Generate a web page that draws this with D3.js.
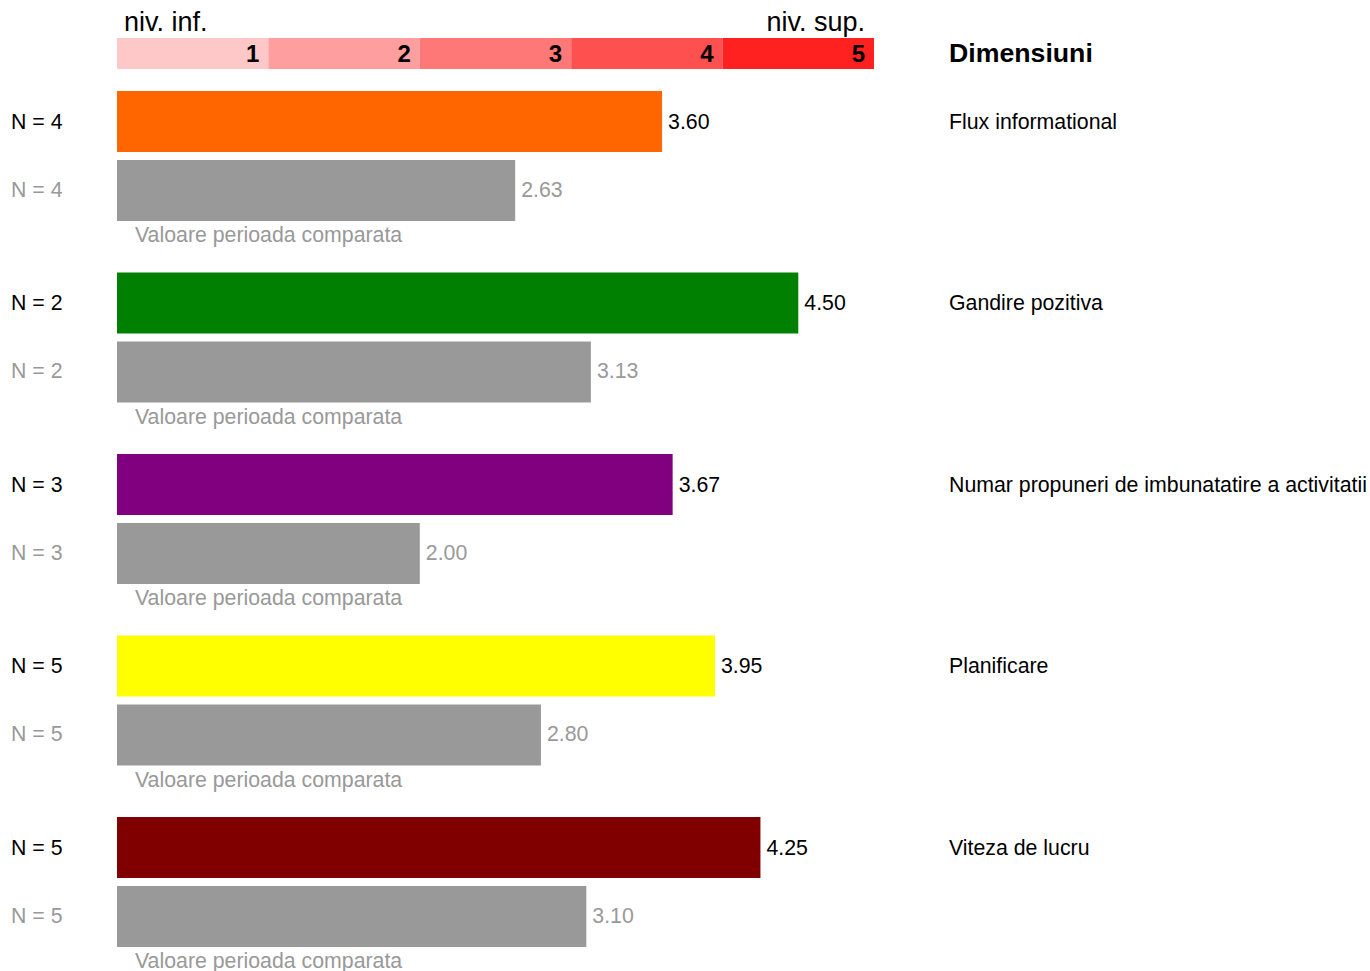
<!DOCTYPE html>
<html>
<head>
<meta charset="utf-8">
<script src="https://cdn.jsdelivr.net/npm/d3@7"></script>
<style>
  body { margin: 0; background: #fff; }
  svg { font-family: "Liberation Sans", Arial, sans-serif; }
</style>
</head>
<body>
<svg width="1370" height="971"></svg>
<script>
// data
var dimensions = ["Flux informational", "Gandire pozitiva", "Numar propuneri de imbunatatire a activitatii", "Planificare", "Viteza de lucru"];
var currentValues = [3.60, 4.50, 3.67, 3.95, 4.25];
var previousValues = [2.63, 3.13, 2.00, 2.80, 3.10];
var currentN = [4, 2, 3, 5, 5];
var previousN = [4, 2, 3, 5, 5];
var barColors = ["#ff6600", "#008000", "#800080", "#ffff00", "#800000"];
var levels = [1, 2, 3, 4, 5];
var levelColors = ["#ffc8c8", "#ff9e9e", "#ff7878", "#ff5050", "#ff2020"];

const svg = d3.select("svg");

const x = d3.scaleLinear()
    .domain([0, 5])
    .range([117, 874]);

const y = d3.scaleBand()
    .domain(dimensions)
    .range([91, 91 + 181.5 * dimensions.length])
    .paddingInner(0)
    .paddingOuter(0);

const barH = 61;
const gap = 8;
const fs = 21.3;

// legend band on top
const legend = svg.append("g");
legend.selectAll("rect")
    .data(levels)
    .join("rect")
    .attr("x", d => x(d - 1))
    .attr("y", 38)
    .attr("width", d => x(d) - x(d - 1))
    .attr("height", 31)
    .attr("fill", (d, i) => levelColors[i]);

legend.selectAll("text")
    .data(levels)
    .join("text")
    .attr("x", d => x(d) - 9)
    .attr("y", 62)
    .attr("text-anchor", "end")
    .attr("font-size", 24)
    .attr("font-weight", "bold")
    .attr("fill", "#000")
    .text(d => d);

svg.append("text")
    .attr("x", x(0) + 7)
    .attr("y", 31)
    .attr("font-size", 27)
    .text("niv. inf.");

svg.append("text")
    .attr("x", x(5) - 9)
    .attr("y", 31)
    .attr("text-anchor", "end")
    .attr("font-size", 27)
    .text("niv. sup.");

svg.append("text")
    .attr("x", 949)
    .attr("y", 62)
    .attr("font-size", 26.7)
    .attr("font-weight", "bold")
    .text("Dimensiuni");

// groups
var rows = dimensions.map((d, i) => ({
    dim: d,
    cur: currentValues[i],
    prev: previousValues[i],
    nCur: currentN[i],
    nPrev: previousN[i],
    color: barColors[i]
}));

const g = svg.append("g")
    .selectAll("g")
    .data(rows)
    .join("g")
    .attr("transform", d => "translate(0," + y(d.dim) + ")");

g.append("rect")
    .attr("x", x(0))
    .attr("y", 0)
    .attr("width", d => x(d.cur) - x(0))
    .attr("height", barH)
    .attr("fill", d => d.color);

g.append("rect")
    .attr("x", x(0))
    .attr("y", barH + gap)
    .attr("width", d => x(d.prev) - x(0))
    .attr("height", barH)
    .attr("fill", "#999999");

g.append("text")
    .attr("x", d => x(d.cur) + 6)
    .attr("y", barH / 2 + 7)
    .attr("font-size", fs)
    .attr("fill", "#000")
    .text(d => d.cur.toFixed(2));

g.append("text")
    .attr("x", d => x(d.prev) + 6)
    .attr("y", barH + gap + barH / 2 + 6)
    .attr("font-size", fs)
    .attr("fill", "#999999")
    .text(d => d.prev.toFixed(2));

g.append("text")
    .attr("x", 11)
    .attr("y", barH / 2 + 7)
    .attr("font-size", fs)
    .attr("fill", "#000")
    .text(d => "N = " + d.nCur);

g.append("text")
    .attr("x", 11)
    .attr("y", barH + gap + barH / 2 + 6)
    .attr("font-size", fs)
    .attr("fill", "#999999")
    .text(d => "N = " + d.nPrev);

g.append("text")
    .attr("x", 135)
    .attr("y", 2 * barH + gap + 21)
    .attr("font-size", fs)
    .attr("fill", "#999999")
    .text("Valoare perioada comparata");

g.append("text")
    .attr("x", 949)
    .attr("y", barH / 2 + 7)
    .attr("font-size", fs)
    .attr("fill", "#000")
    .text(d => d.dim);
</script>
</body>
</html>
